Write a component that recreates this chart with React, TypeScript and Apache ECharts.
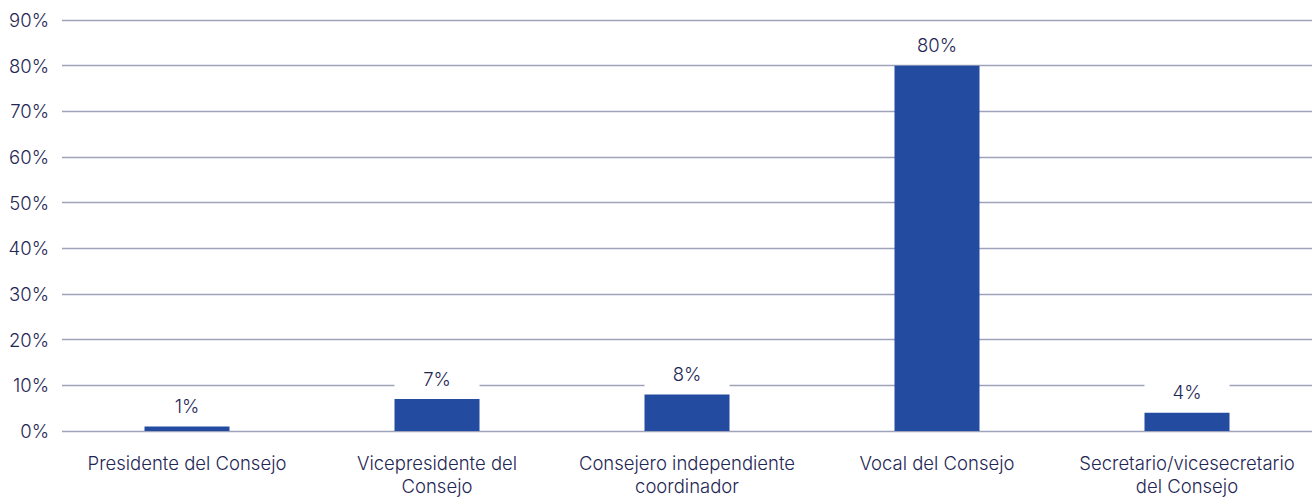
import React, { useEffect, useRef } from "react";
import * as echarts from "echarts";

const categories = [
  "Presidente del Consejo",
  "Vicepresidente del\nConsejo",
  "Consejero independiente\ncoordinador",
  "Vocal del Consejo",
  "Secretario/vicesecretario\ndel Consejo",
];
const values = [1, 7, 8, 80, 4];
const yTicks = { min: 0, max: 90, interval: 10 };

const TEXT = "#1f2755";
const FONT = "Inter";
const FS = 18.5;
const FW = 300;

export default function App() {
  const ref = useRef<HTMLDivElement>(null);
  useEffect(() => {
    if (!ref.current) return;
    const chart = echarts.init(ref.current, null, { renderer: "svg" });
    chart.setOption({
      animation: false,
      grid: { left: 62, right: 0, top: 20, bottom: 65, containLabel: false },
      xAxis: {
        type: "category",
        data: categories,
        axisLine: { show: false },
        axisTick: { show: false },
        axisLabel: {
          color: TEXT,
          fontFamily: FONT,
          fontSize: FS,
          fontWeight: FW,
          margin: 20,
          lineHeight: 23,
          interval: 0,
        },
      },
      yAxis: {
        type: "value",
        min: yTicks.min,
        max: yTicks.max,
        interval: yTicks.interval,
        axisLine: { show: false },
        axisTick: { show: false },
        splitLine: { lineStyle: { color: "#9ea3bb", width: 1.3 } },
        axisLabel: {
          color: TEXT,
          fontFamily: FONT,
          fontSize: FS,
          fontWeight: FW,
          margin: 13,
          formatter: (v: number) => `${v}%`,
        },
      },
      series: [
        {
          type: "bar",
          data: values,
          barWidth: 85,
          itemStyle: { color: "#234ba0" },
          label: {
            show: true,
            position: "top",
            distance: 6,
            color: TEXT,
            fontFamily: FONT,
            fontSize: FS,
            fontWeight: FW,
            backgroundColor: "#ffffff",
            width: 85,
            align: "center",
            padding: [5, 0, 5, 0],
            formatter: (p: any) => `${p.value}%`,
          },
        },
      ],
    });
    return () => chart.dispose();
  }, []);
  return <div ref={ref} style={{ width: 1312, height: 497, position: "absolute", left: 0, top: 0, background: "#fff" }} />;
}
